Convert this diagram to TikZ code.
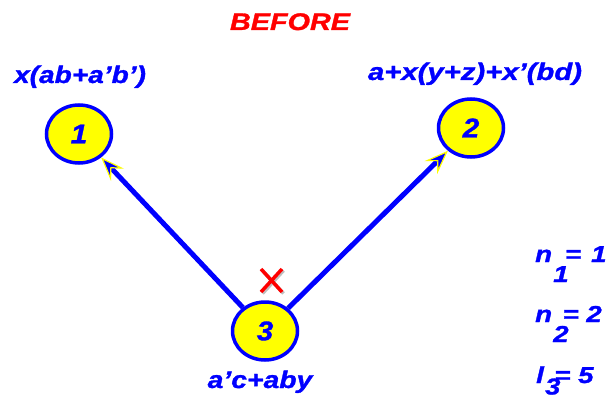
\documentclass[tikz,border=0pt]{standalone}
\usepackage{fontspec}
\setmainfont{Liberation Sans}[FakeBold=1.2]
\usepackage{graphicx}
\usetikzlibrary{arrows.meta,shapes.geometric}
\definecolor{pblue}{RGB}{0,0,255}
\definecolor{pyellow}{RGB}{255,255,0}
\definecolor{pred}{RGB}{255,0,0}
\tikzset{
  vtx/.style={ellipse, draw=pblue, fill=pyellow, line width=3.5pt, minimum width=65pt, minimum height=58pt, inner sep=0pt, font=\fontsize{27}{27}\selectfont\bfseries\itshape, text=pblue},
  lbl/.style={font=\fontsize{24}{24}\selectfont\bfseries\itshape, text=pblue, inner sep=0pt, anchor=base},
  cnt/.style={font=\fontsize{23}{23}\selectfont\bfseries\itshape, text=pblue, inner sep=0pt, anchor=base west},
  edge/.style={draw=pblue, line width=5pt, -{Stealth[length=24pt,width=18pt,inset=9pt,fill=pblue,color=pyellow,line width=1.2pt]}},
  cross/.style={draw=pred, line width=3.5pt},
  crossshadow/.style={draw=black!25, line width=3.5pt}
}
\begin{document}
\begin{tikzpicture}[x=1pt,y=-1pt]
\useasboundingbox (0,0) rectangle (615,398);
\node[lbl, text=pred] (title) at (290,30) {\scalebox{1.2}[1]{BEFORE}};
\node[vtx] (n1) at (79,134) {\scalebox{1.1}[1]{1}};
\node[vtx] (n2) at (471,128) {\scalebox{1.1}[1]{2}};
\node[vtx] (n3) at (265,331) {\scalebox{1.1}[1]{3}};
\node[lbl] (l1) at (80,83) {\scalebox{1.17}[1]{x(ab+a’b’)}};
\node[lbl] (l2) at (475,80) {\scalebox{1.22}[1]{a+x(y+z)+x’(bd)}};
\node[lbl] (l3) at (260,388) {\scalebox{1.18}[1]{a’c+aby}};
\draw[edge] (n3) -- (n1);
\draw[edge] (n3) -- (n2);
\coordinate (xa) at (261,269);
\coordinate (xb) at (282,292);
\coordinate (xc) at (282,269);
\coordinate (xd) at (261,292);
\draw[crossshadow] ([shift={(1.5,1.5)}]xa) -- ([shift={(1.5,1.5)}]xb);
\draw[crossshadow] ([shift={(1.5,1.5)}]xc) -- ([shift={(1.5,1.5)}]xd);
\draw[cross] (xa) -- (xb);
\draw[cross] (xc) -- (xd);
\node[cnt] (c1) at (535,262) {\scalebox{1.2}[1]{n\kern1pt\raisebox{-20pt}{1}\kern-3pt= \kern2pt 1}};
\node[cnt] (c2) at (535,322) {\scalebox{1.2}[1]{n\kern1pt\raisebox{-20pt}{2}\kern-5pt= 2}};
\node[cnt] (c3) at (536,383) {\scalebox{1.2}[1]{l\kern1pt\raisebox{-11.5pt}{3}\kern-5pt= 5}};
\end{tikzpicture}
\end{document}
